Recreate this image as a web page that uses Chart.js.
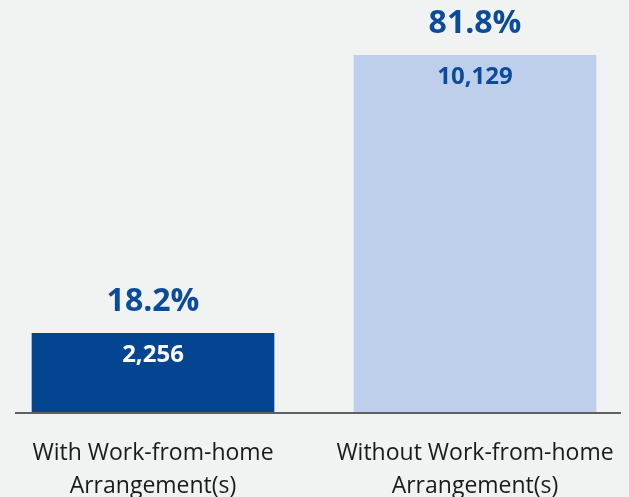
<!DOCTYPE html>
<html>
<head>
<meta charset="utf-8">
<script src="https://cdn.jsdelivr.net/npm/chart.js@4"></script>
<style>
    html, body { margin: 0; padding: 0; background: #f1f3f3; overflow: hidden; }
    #wrap { position: relative; left: -8px; width: 644px; height: 497px; }
</style>
</head>
<body>
<div id="wrap"><canvas id="grafico"></canvas></div>
<script>
const categorias = [['With Work-from-home', 'Arrangement(s)'], ['Without Work-from-home', 'Arrangement(s)']];
const quantidades = [2256, 10129];
const percentuais = [18.2, 81.8];
const coresBarra = ['#044592', '#bdcfea'];
const coresTextoBarra = ['#ffffff', '#0b4b9b'];

// rotulos: percentual acima da barra, quantidade dentro
const rotulosPlugin = {
    id: 'rotulos',
    afterDatasetsDraw(chart) {
        const ctx = chart.ctx;
        const barras = chart.getDatasetMeta(0).data;
        ctx.save();
        ctx.textAlign = 'center';
        ctx.textBaseline = 'middle';
        barras.forEach((barra, i) => {
            ctx.fillStyle = '#0b4b9b';
            ctx.font = 'bold 32px "Open Sans"';
            ctx.fillText(percentuais[i].toFixed(1) + '%', barra.x, barra.y - 31);
            ctx.fillStyle = coresTextoBarra[i];
            ctx.font = 'bold 24px "Open Sans"';
            ctx.fillText(quantidades[i].toLocaleString('en-US'), barra.x, barra.y + 22);
        });
        // linha de base
        const y0 = chart.scales.y.getPixelForValue(0);
        ctx.strokeStyle = '#606060';
        ctx.lineWidth = 2;
        ctx.beginPath();
        ctx.moveTo(23, y0);
        ctx.lineTo(629, y0);
        ctx.stroke();
        ctx.restore();
    }
};

new Chart(document.getElementById('grafico'), {
    type: 'bar',
    data: {
        labels: categorias,
        datasets: [{
            data: quantidades,
            backgroundColor: coresBarra,
            barThickness: 242
        }]
    },
    options: {
        responsive: true,
        maintainAspectRatio: false,
        animation: false,
        layout: { padding: { top: 55 } },
        plugins: {
            legend: { display: false },
            tooltip: { enabled: false }
        },
        scales: {
            x: {
                grid: { display: false },
                border: { display: false },
                ticks: {
                    color: '#1a1a1a',
                    padding: 16,
                    font: { family: 'Open Sans', size: 23, lineHeight: 1.42 }
                },
                afterFit: (escala) => { escala.height = 84; }
            },
            y: {
                display: false,
                min: 0,
                max: Math.max(...quantidades)
            }
        }
    },
    plugins: [rotulosPlugin]
});
</script>
</body>
</html>
